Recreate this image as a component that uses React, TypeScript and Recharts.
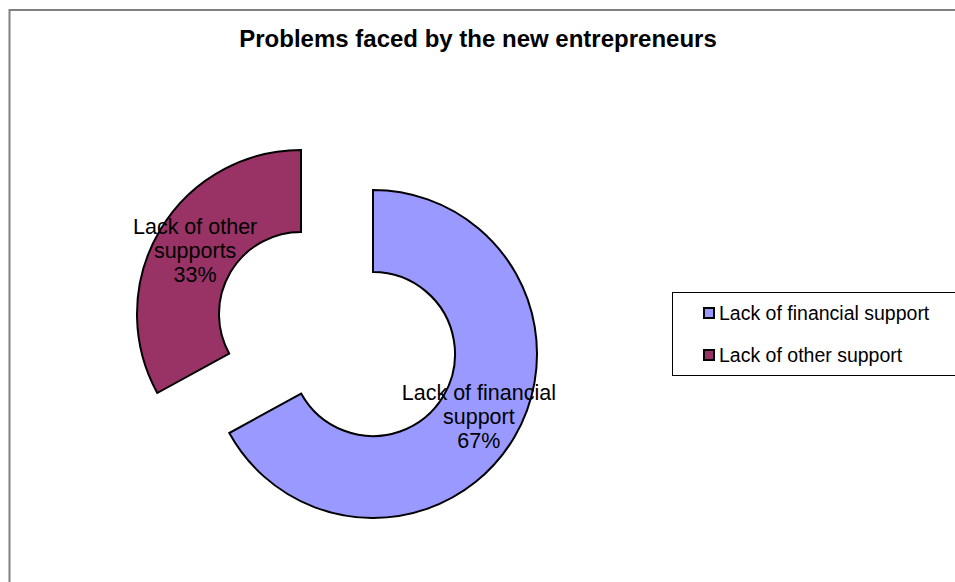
import React from 'react';
import { PieChart, Pie, Cell, Legend, Customized } from 'recharts';

const categories = ['Lack of financial support', 'Lack of other support'];
const labelNames = [['Lack of financial', 'support'], ['Lack of other', 'supports']];
const values = [67, 33];
const colors = ['#9999FF', '#993366'];
const title = 'Problems faced by the new entrepreneurs';

const data = categories.map((name, i) => ({ name, value: values[i], idx: i }));
const total = values.reduce((a, b) => a + b, 0);
const FONT = 'Liberation Sans, Arial, sans-serif';
const RAD = Math.PI / 180;

const makeLabel = (showIdx: number) => (props: any) => {
  const { cx, cy, midAngle, innerRadius, outerRadius, index } = props;
  if (index !== showIdx) return null;
  const r = (innerRadius + outerRadius) / 2;
  const x = cx + r * Math.cos(-midAngle * RAD);
  const y = cy + r * Math.sin(-midAngle * RAD);
  const lines = [...labelNames[index], `${Math.round((values[index] / total) * 100)}%`];
  return (
    <text x={x} y={y - 24} textAnchor="middle" fontFamily={FONT} fontSize={21.5} fill="#000">
      {lines.map((l, i) => (
        <tspan key={i} x={x} dy={i === 0 ? 7 : 24}>{l}</tspan>
      ))}
    </text>
  );
};

const renderLegend = () => (
  <div style={{ border: '1px solid #000', borderRight: 'none', width: 283, height: 84, boxSizing: 'border-box', paddingTop: 0, fontFamily: FONT, fontSize: 19.5, whiteSpace: 'nowrap' }}>
    {categories.map((c, i) => (
      <div key={c} style={{ display: 'flex', alignItems: 'center', height: 42, paddingLeft: 30, marginTop: i === 0 ? -1 : 0 }}>
        <span style={{ display: 'inline-block', width: 8, height: 8, background: colors[i], border: '2px solid #000', marginRight: 4 }} />
        <span>{c}</span>
      </div>
    ))}
  </div>
);

export default function App() {
  return (
    <div style={{ position: 'absolute', left: 0, top: 0, width: 955, height: 582, overflow: 'hidden', background: '#fff' }}>
      <PieChart width={955} height={582} margin={{ top: 0, right: 0, bottom: 0, left: 0 }}>
        <Customized component={() => (
          <g>
            <path d="M9.5,600 L9.5,10 L960,10" fill="none" stroke="#808080" strokeWidth={2} />
            <text x={478} y={47} textAnchor="middle" fontFamily={FONT} fontWeight="bold" fontSize={24} fill="#000">{title}</text>
          </g>
        )} />
        <Pie data={data} dataKey="value" nameKey="name" cx={373} cy={354} innerRadius={82} outerRadius={164}
          startAngle={90} endAngle={-270} isAnimationActive={false} label={makeLabel(0)} labelLine={false}>
          {data.map((d, i) => (
            <Cell key={i} fill={i === 0 ? colors[0] : 'none'} stroke={i === 0 ? '#000' : 'none'} strokeWidth={2} />
          ))}
        </Pie>
        <Pie data={data} dataKey="value" nameKey="name" cx={301} cy={314} innerRadius={82} outerRadius={164}
          startAngle={90} endAngle={-270} isAnimationActive={false} label={makeLabel(1)} labelLine={false}>
          {data.map((d, i) => (
            <Cell key={i} fill={i === 1 ? colors[1] : 'none'} stroke={i === 1 ? '#000' : 'none'} strokeWidth={2} />
          ))}
        </Pie>
        <Legend content={renderLegend} wrapperStyle={{ position: 'absolute', left: 672, top: 292, width: 283, height: 84 }} />
      </PieChart>
    </div>
  );
}
